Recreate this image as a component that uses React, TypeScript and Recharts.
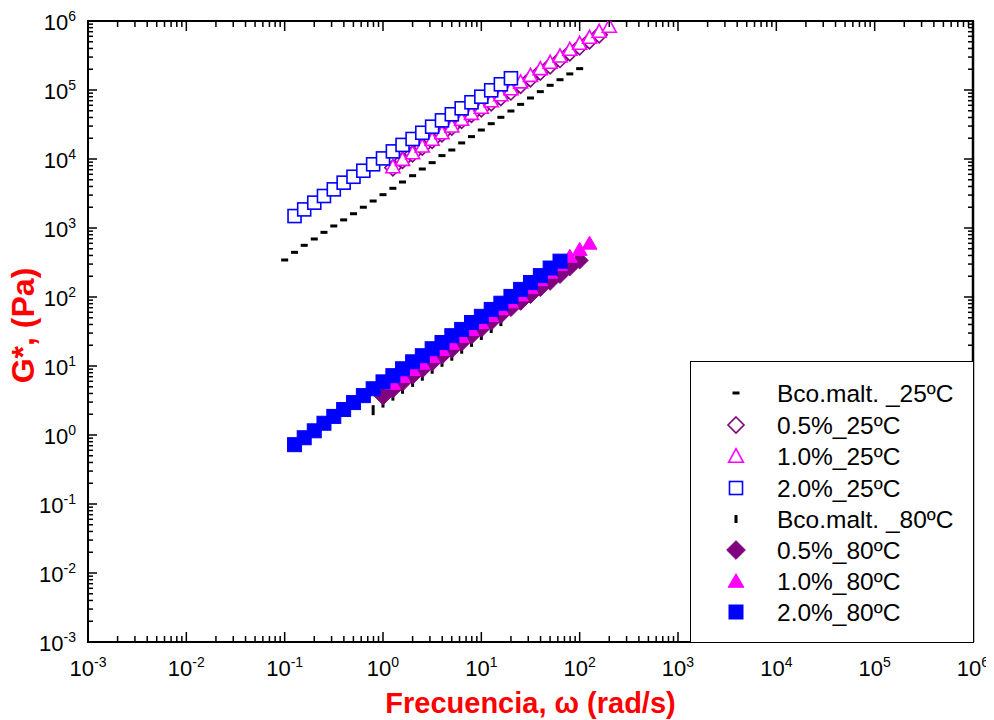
import React from 'react';
import { ScatterChart, Scatter, XAxis, YAxis, ReferenceArea } from 'recharts';

// Frequency sweeps (rad/s) and complex modulus G* (Pa)
const W_BCO_25 = [0.1, 0.126, 0.158, 0.2, 0.251, 0.316, 0.398, 0.501, 0.631, 0.794, 1, 1.26, 1.58, 2, 2.51, 3.16, 3.98, 5.01, 6.31, 7.94, 10, 12.6, 15.8, 20, 25.1, 31.6, 39.8, 50.1, 63.1, 79.4, 100];
const G_BCO_25 = [344, 444, 561, 693, 865, 1070, 1310, 1610, 2000, 2460, 3040, 3760, 4640, 5730, 7160, 8850, 11200, 13500, 17100, 21100, 26300, 32500, 40200, 49600, 61900, 76600, 94600, 117000, 141000, 171000, 204000];

const W_05_25 = [1.26, 1.58, 2, 2.51, 3.16, 3.98, 5.01, 6.31, 7.94, 10, 12.6, 15.8, 20, 25.1, 31.6, 39.8, 50.1, 63.1, 79.4, 100, 126, 158];
const G_05_25 = [7460, 9540, 11900, 14900, 18600, 23200, 29000, 36300, 44300, 53300, 65100, 77800, 93600, 117000, 145000, 182000, 224000, 277000, 346000, 423000, 517000, 632000];

const W_10_25 = [1.26, 1.58, 2, 2.51, 3.16, 3.98, 5.01, 6.31, 7.94, 10, 12.6, 15.8, 20, 25.1, 31.6, 39.8, 50.1, 63.1, 79.4, 100, 126, 158, 200];
const G_10_25 = [7730, 9890, 12300, 15400, 19300, 24000, 30100, 37600, 45900, 56100, 70000, 85500, 104000, 131000, 163000, 204000, 252000, 311000, 389000, 475000, 581000, 710000, 840000];

const W_20_25 = [0.126, 0.158, 0.2, 0.251, 0.316, 0.398, 0.501, 0.631, 0.794, 1, 1.26, 1.58, 2, 2.51, 3.16, 3.98, 5.01, 6.31, 7.94, 10, 12.6, 15.8, 20];
const G_20_25 = [1490, 1860, 2330, 2910, 3630, 4540, 5530, 6760, 8380, 10200, 12900, 16000, 19500, 24000, 29400, 36300, 44500, 54300, 66400, 80000, 99100, 121000, 148000];

const W_BCO_80 = [0.794, 1, 1.26, 1.58, 2, 2.51, 3.16, 3.98, 5.01, 6.31, 7.94, 10, 12.6, 15.8];
const G_BCO_80 = [2.29, 2.95, 3.72, 4.68, 5.89, 7.24, 9.12, 11.5, 14.1, 17.8, 22.4, 28.2, 35.5, 44.7];

const W_05_80 = [1, 1.26, 1.58, 2, 2.51, 3.16, 3.98, 5.01, 6.31, 7.94, 10, 12.6, 15.8, 20, 25.1, 31.6, 39.8, 50.1, 63.1, 79.4, 100];
const G_05_80 = [3.63, 4.57, 5.75, 7.24, 8.91, 11.2, 14.1, 17.4, 21.9, 27.5, 34.7, 43.7, 55.0, 69.2, 85.1, 107, 135, 166, 209, 269, 339];

const W_10_80 = [1.26, 1.58, 2, 2.51, 3.16, 3.98, 5.01, 6.31, 7.94, 10, 12.6, 15.8, 20, 25.1, 31.6, 39.8, 50.1, 63.1, 79.4, 100, 126];
const G_10_80 = [5.62, 7.08, 8.91, 11.0, 13.8, 17.4, 21.4, 26.9, 33.9, 42.7, 53.7, 67.6, 85.1, 107, 138, 178, 229, 295, 389, 490, 603];

const W_20_80 = [0.126, 0.158, 0.2, 0.251, 0.316, 0.398, 0.501, 0.631, 0.794, 1, 1.26, 1.58, 2, 2.51, 3.16, 3.98, 5.01, 6.31, 7.94, 10, 12.6, 15.8, 20, 25.1, 31.6, 39.8, 50.1, 63.1];
const G_20_80 = [0.724, 0.912, 1.15, 1.48, 1.86, 2.34, 2.95, 3.72, 4.68, 5.89, 7.24, 9.12, 11.5, 14.1, 17.8, 21.9, 27.5, 33.9, 42.7, 52.5, 66.1, 81.3, 102, 129, 162, 204, 263, 331];

const SERIES_NAMES = [
  'Bco.malt. _25ºC',
  '0.5%_25ºC',
  '1.0%_25ºC',
  '2.0%_25ºC',
  'Bco.malt. _80ºC',
  '0.5%_80ºC',
  '1.0%_80ºC',
  '2.0%_80ºC',
];

// Axis decades (both axes share the same log range)
const AXIS_MIN = 1e-3;
const AXIS_MAX = 1e6;
const MAJOR_TICKS = [1e-3, 1e-2, 1e-1, 1, 10, 100, 1e3, 1e4, 1e5, 1e6];
const MAJOR_SET = new Set(MAJOR_TICKS);
const ALL_TICKS = [
  ...MAJOR_TICKS,
  ...MAJOR_TICKS.slice(0, -1).flatMap((d) => [2, 3, 4, 5, 6, 7, 8, 9].map((m) => m * d)),
];

const FONT = '"Liberation Sans", Arial, Helvetica, sans-serif';
const PURPLE = '#800080';
const MAGENTA = '#FF00FF';
const BLUE = '#0000FF';

type Kind =
  | 'dashH'
  | 'diamondOpen'
  | 'triangleOpen'
  | 'squareOpen'
  | 'dashV'
  | 'diamondFilled'
  | 'triangleFilled'
  | 'squareFilled';

function marker(kind: Kind, cx: number, cy: number, scale = 1) {
  if (cx == null || cy == null || isNaN(cx) || isNaN(cy)) return <g />;
  switch (kind) {
    case 'dashH':
      return <rect x={cx - 3.5} y={cy - 1.5} width={7} height={3} fill="#000" />;
    case 'dashV':
      return <rect x={cx - 1.5} y={cy - 5 * scale} width={3} height={10 * scale} fill="#000" />;
    case 'diamondOpen': {
      const r = 8 * scale;
      return (
        <polygon
          points={`${cx},${cy - r} ${cx + r},${cy} ${cx},${cy + r} ${cx - r},${cy}`}
          fill="#fff"
          stroke={PURPLE}
          strokeWidth={1.6}
        />
      );
    }
    case 'diamondFilled': {
      const r = 8.5 * scale;
      return (
        <polygon
          points={`${cx},${cy - r} ${cx + r},${cy} ${cx},${cy + r} ${cx - r},${cy}`}
          fill={PURPLE}
          stroke={PURPLE}
          strokeWidth={1}
        />
      );
    }
    case 'triangleOpen': {
      const w = 7 * scale;
      const h = 6 * scale;
      return (
        <polygon
          points={`${cx},${cy - h - 1} ${cx + w},${cy + h} ${cx - w},${cy + h}`}
          fill="#fff"
          stroke={MAGENTA}
          strokeWidth={1.6}
        />
      );
    }
    case 'triangleFilled': {
      const w = 7.5 * scale;
      const h = 6 * scale;
      return (
        <polygon
          points={`${cx},${cy - h - 1} ${cx + w},${cy + h} ${cx - w},${cy + h}`}
          fill={MAGENTA}
          stroke={MAGENTA}
          strokeWidth={1}
        />
      );
    }
    case 'squareOpen': {
      const s = 6.5 * scale;
      return (
        <rect x={cx - s} y={cy - s} width={2 * s} height={2 * s} fill="#fff" stroke={BLUE} strokeWidth={1.6} />
      );
    }
    case 'squareFilled': {
      const s = 7 * scale;
      return <rect x={cx - s} y={cy - s} width={2 * s} height={2 * s} fill={BLUE} stroke={BLUE} strokeWidth={1} />;
    }
  }
  return <g />;
}

const toPoints = (xs: number[], ys: number[]) => xs.map((x, i) => ({ x, y: ys[i] }));

const SERIES: { name: string; kind: Kind; data: { x: number; y: number }[] }[] = [
  { name: SERIES_NAMES[0], kind: 'dashH', data: toPoints(W_BCO_25, G_BCO_25) },
  { name: SERIES_NAMES[1], kind: 'diamondOpen', data: toPoints(W_05_25, G_05_25) },
  { name: SERIES_NAMES[2], kind: 'triangleOpen', data: toPoints(W_10_25, G_10_25) },
  { name: SERIES_NAMES[3], kind: 'squareOpen', data: toPoints(W_20_25, G_20_25) },
  { name: SERIES_NAMES[4], kind: 'dashV', data: toPoints(W_BCO_80, G_BCO_80) },
  { name: SERIES_NAMES[5], kind: 'diamondFilled', data: toPoints(W_05_80, G_05_80) },
  { name: SERIES_NAMES[6], kind: 'triangleFilled', data: toPoints(W_10_80, G_10_80) },
  { name: SERIES_NAMES[7], kind: 'squareFilled', data: toPoints(W_20_80, G_20_80) },
];

const exponentOf = (v: number) => Math.round(Math.log10(v));

function PowerLabel({ x, y, v, anchor }: { x: number; y: number; v: number; anchor: 'middle' | 'end' }) {
  return (
    <text x={x} y={y} textAnchor={anchor} fontSize={22} fill="#000" fontFamily={FONT}>
      10
      <tspan dy={-9} fontSize={14}>
        {String(exponentOf(v))}
      </tspan>
    </text>
  );
}

function BottomTick(props: any) {
  const { x, y, payload } = props;
  const major = MAJOR_SET.has(payload.value);
  return (
    <g>
      <line x1={x} x2={x} y1={y} y2={y - (major ? 10 : 6)} stroke="#000" strokeWidth={1.5} />
      {major && <PowerLabel x={x} y={y + 34} v={payload.value} anchor="middle" />}
    </g>
  );
}

function LeftTick(props: any) {
  const { x, y, payload } = props;
  const major = MAJOR_SET.has(payload.value);
  return (
    <g>
      <line x1={x} x2={x + (major ? 9 : 5)} y1={y} y2={y} stroke="#000" strokeWidth={1.5} />
      {major && <PowerLabel x={x - 12} y={y + 9} v={payload.value} anchor="end" />}
    </g>
  );
}

function TopTick(props: any) {
  const { x, y, payload } = props;
  const major = MAJOR_SET.has(payload.value);
  return <line x1={x} x2={x} y1={y} y2={y + (major ? 10 : 6)} stroke="#000" strokeWidth={1.5} />;
}

function RightTick(props: any) {
  const { x, y, payload } = props;
  const major = MAJOR_SET.has(payload.value);
  return <line x1={x} x2={x - (major ? 9 : 5)} y1={y} y2={y} stroke="#000" strokeWidth={1.5} />;
}

const xTitle = (props: any) => {
  const vb = props.viewBox;
  return (
    <text
      x={vb.x + vb.width / 2}
      y={vb.y + 71}
      textAnchor="middle"
      fontSize={29}
      fontWeight="bold"
      fill="#FF0000"
      fontFamily={FONT}
    >
      Frecuencia, ω (rad/s)
    </text>
  );
};

const yTitle = (props: any) => {
  const vb = props.viewBox;
  const cx = vb.x + 34;
  const cy = vb.y + vb.height / 2 - 6;
  return (
    <text
      x={cx}
      y={cy}
      transform={`rotate(-90, ${cx}, ${cy})`}
      textAnchor="middle"
      fontSize={32}
      fontWeight="bold"
      fill="#FF0000"
      fontFamily={FONT}
    >
      G*, (Pa)
    </text>
  );
};

function LegendBox() {
  const rowY = [32, 64, 95, 127, 158, 189, 220, 251];
  const legendScale: Record<Kind, number> = {
    dashH: 1,
    diamondOpen: 1,
    triangleOpen: 1.05,
    squareOpen: 1,
    dashV: 0.8,
    diamondFilled: 1.1,
    triangleFilled: 1.05,
    squareFilled: 1,
  };
  return (
    <div
      style={{
        position: 'absolute',
        left: 690,
        top: 361,
        width: 284,
        height: 282,
        boxSizing: 'border-box',
        border: '1.5px solid #000',
        background: '#fff',
      }}
    >
      <svg width={281} height={279} style={{ display: 'block' }}>
        {SERIES.map((s, i) => (
          <g key={s.name}>
            {marker(s.kind, 45, rowY[i] - 1, legendScale[s.kind])}
            <text x={86} y={rowY[i] + 8} fontSize={24.5} fill="#000" fontFamily={FONT}>
              {s.name}
            </text>
          </g>
        ))}
      </svg>
    </div>
  );
}

const axisLine = { stroke: '#000', strokeWidth: 2 };

export default function App() {
  return (
    <div style={{ position: 'relative', width: 988, height: 720, margin: '-8px 0 0 -8px', fontFamily: FONT }}>
      <ScatterChart width={988} height={720} margin={{ top: 20, right: 14, bottom: 18, left: 0 }}>
        <XAxis
          xAxisId="bottom"
          dataKey="x"
          type="number"
          scale="log"
          domain={[AXIS_MIN, AXIS_MAX]}
          allowDataOverflow
          ticks={ALL_TICKS}
          interval={0}
          height={60}
          tickSize={0}
          tickMargin={0}
          tickLine={false}
          tick={BottomTick}
          axisLine={axisLine}
          label={xTitle}
        />
        <XAxis
          xAxisId="top"
          orientation="top"
          dataKey="x"
          type="number"
          scale="log"
          domain={[AXIS_MIN, AXIS_MAX]}
          allowDataOverflow
          ticks={ALL_TICKS}
          interval={0}
          height={1}
          tickSize={0}
          tickMargin={0}
          tickLine={false}
          tick={TopTick}
          axisLine={axisLine}
        />
        <YAxis
          yAxisId="left"
          dataKey="y"
          type="number"
          scale="log"
          domain={[AXIS_MIN, AXIS_MAX]}
          allowDataOverflow
          ticks={ALL_TICKS}
          interval={0}
          width={88}
          tickSize={0}
          tickMargin={0}
          tickLine={false}
          tick={LeftTick}
          axisLine={axisLine}
          label={yTitle}
        />
        <YAxis
          yAxisId="right"
          orientation="right"
          dataKey="y"
          type="number"
          scale="log"
          domain={[AXIS_MIN, AXIS_MAX]}
          allowDataOverflow
          ticks={ALL_TICKS}
          interval={0}
          width={1}
          tickSize={0}
          tickMargin={0}
          tickLine={false}
          tick={RightTick}
          axisLine={{ stroke: '#000', strokeWidth: 2.5 }}
        />
        <ReferenceArea
          xAxisId="bottom"
          yAxisId="left"
          x1={AXIS_MIN}
          x2={AXIS_MAX}
          y1={AXIS_MIN}
          y2={AXIS_MAX}
          fill="none"
          fillOpacity={0}
          stroke="#000"
          strokeWidth={2}
          ifOverflow="visible"
        />
        <Scatter
          xAxisId="top"
          yAxisId="right"
          data={[{ x: 1, y: 1 }]}
          isAnimationActive={false}
          shape={() => <g />}
        />
        {SERIES.map((s) => (
          <Scatter
            key={s.name}
            name={s.name}
            xAxisId="bottom"
            yAxisId="left"
            data={s.data}
            isAnimationActive={false}
            shape={(p: any) => marker(s.kind, p.cx, p.cy)}
          />
        ))}
      </ScatterChart>
      <LegendBox />
    </div>
  );
}
